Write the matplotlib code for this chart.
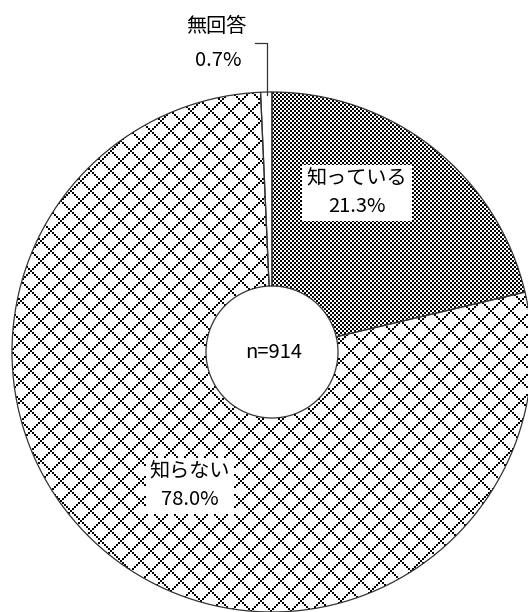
import numpy as np
import matplotlib.pyplot as plt

plt.rcParams['font.family'] = ['Noto Sans CJK JP', 'DejaVu Sans']

labels = ['知っている', '知らない', '無回答']
values = [21.3, 78.0, 0.7]
n_total = 914

W, H = 528, 612
fig = plt.figure(figsize=(W / 100, H / 100), dpi=100)
ax = fig.add_axes([0, 0, 1, 1])

cx, cy, r, r_in = 272, H - 352, 260, 66
wedges, _ = ax.pie(values, startangle=90, counterclock=False, center=(cx, cy),
                   radius=r, wedgeprops=dict(width=r - r_in, linewidth=0.9,
                                             edgecolor='#333333'))
ax.set_xlim(0, W)
ax.set_ylim(0, H)
ax.set_aspect('equal')
ax.axis('off')

# pixel patterns like the old office fills (2px cells)
yy, xx = np.mgrid[0:H, 0:W]
gy, gx = yy // 2, xx // 2
checker = ((gy + gx) % 2).astype(float)
diamond = 1.0 - (((gx + gy) % 10 == 0) | ((gx - gy) % 10 == 0)).astype(float)
blank = np.ones((H, W))
for w, pat in zip(wedges, [checker, diamond, blank]):
    w.set_facecolor('none')
    w.set_zorder(3)
    im = ax.imshow(pat, cmap='gray', vmin=0, vmax=1, interpolation='nearest',
                   extent=(0, W, 0, H), origin='upper', zorder=2)
    im.set_clip_path(w)
ax.set_xlim(0, W)
ax.set_ylim(0, H)

box = dict(facecolor='white', edgecolor='none', pad=3)
fs = 14.5
ax.text(357, H - 193, f'{labels[0]}\n{values[0]:.1f}%', ha='center', va='center',
        fontsize=fs, linespacing=1.4, bbox=box, zorder=5)
ax.text(190, H - 486, f'{labels[1]}\n{values[1]:.1f}%', ha='center', va='center',
        fontsize=fs, linespacing=1.4, bbox=box, zorder=5)
ax.text(216, H - 26, labels[2], ha='center', va='center', fontsize=fs, zorder=5)
ax.text(218, H - 61, f'{values[2]:.1f}%', ha='center', va='center', fontsize=fs, zorder=5)
ax.plot([255, 267, 267], [H - 43, H - 43, H - 95], color='#333333', lw=0.9, zorder=4)
ax.text(cx + 2, cy, f'n={n_total}', ha='center', va='center', fontsize=fs, zorder=5)

fig.savefig('out.png', dpi=100)
